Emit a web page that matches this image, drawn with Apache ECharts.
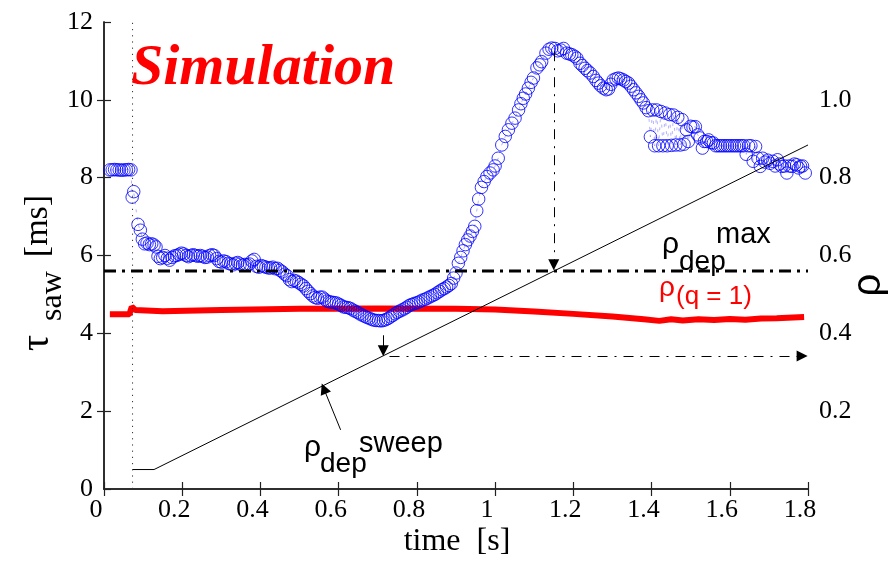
<!DOCTYPE html>
<html><head><meta charset="utf-8">
<script src="https://cdn.jsdelivr.net/npm/echarts@6/dist/echarts.min.js"></script>
<style>html,body{margin:0;padding:0;background:#fff}#c{width:892px;height:561px}</style>
</head><body><div id="c"></div>
<script>
// ---- data (time in s) ----
const xTickValues = [0, 0.2, 0.4, 0.6, 0.8, 1, 1.2, 1.4, 1.6, 1.8];
// sawtooth period tau_saw [ms] vs time
const sawTau = [[0.015,8.2],[0.021,8.2],[0.027,8.21],[0.033,8.2],[0.039,8.2],[0.045,8.19],[0.051,8.2],[0.057,8.2],[0.063,8.21],[0.069,8.2],
[0.072,7.5],[0.076,7.64],
[0.087,6.8],[0.093,6.65],[0.098,6.42],[0.104,6.3],[0.11,6.32],[0.116,6.28],[0.122,6.3],[0.128,6.27],[0.133,6.22],
[0.138,5.98],[0.144,5.92],[0.15,5.95],[0.156,6.0],[0.162,5.93],[0.168,5.88],[0.174,5.95],[0.18,5.99],[0.186,6.0],[0.192,6.03],[0.198,6.06],[0.204,6.04],[0.21,6.0],[0.216,5.97],[0.222,6.0],[0.228,6.02],[0.234,6.0],[0.24,5.98],[0.246,6.0],[0.252,5.98],[0.258,5.95],[0.264,5.96],[0.27,6.0],[0.276,6.02],[0.282,6.0],[0.288,5.92],[0.294,5.85],[0.3,5.83],[0.306,5.86],[0.312,5.84],[0.318,5.8],[0.324,5.78],[0.33,5.76],[0.336,5.8],[0.342,5.82],[0.348,5.78],[0.354,5.75],[0.36,5.77],[0.366,5.76],[0.372,5.78],[0.378,5.86],[0.384,5.9],[0.39,5.72],[0.396,5.7],[0.402,5.74],[0.408,5.72],[0.414,5.7],[0.42,5.68],[0.426,5.68],[0.432,5.7],[0.438,5.66],[0.444,5.67],[0.45,5.62],[0.456,5.58],[0.462,5.52],[0.468,5.48],[0.474,5.38],[0.48,5.33],[0.486,5.36],[0.492,5.34],[0.498,5.3],[0.504,5.26],[0.51,5.22],[0.516,5.15],[0.522,5.08],[0.528,5.02],[0.534,4.96],[0.54,4.92],[0.546,4.9],[0.552,4.93],[0.558,4.93],[0.564,4.88],[0.57,4.83],[0.576,4.81],[0.582,4.8],[0.588,4.79],[0.594,4.78],[0.6,4.75],[0.606,4.72],[0.612,4.68],[0.618,4.67],[0.624,4.66],[0.63,4.64],[0.636,4.6],[0.642,4.57],[0.648,4.54],[0.654,4.5],[0.66,4.47],[0.666,4.44],[0.672,4.41],[0.678,4.39],[0.684,4.36],[0.69,4.34],[0.696,4.33],[0.702,4.33],[0.708,4.32],[0.714,4.33],[0.72,4.35],[0.726,4.38],[0.732,4.42],[0.738,4.46],[0.744,4.5],[0.75,4.54],[0.756,4.57],[0.762,4.6],[0.768,4.63],[0.774,4.67],[0.78,4.71],[0.786,4.74],[0.792,4.76],[0.798,4.78],[0.804,4.8],[0.81,4.83],[0.816,4.86],[0.822,4.88],[0.828,4.91],[0.834,4.94],[0.84,4.97],[0.846,5.0],[0.852,5.04],[0.858,5.08],[0.864,5.12],[0.87,5.15],[0.876,5.19],[0.882,5.23],[0.888,5.28],[0.894,5.42],[0.9,5.55],[0.906,5.8],[0.912,5.95],[0.918,6.12],[0.924,6.28],[0.93,6.4],[0.936,6.5],[0.942,6.62],[0.948,6.75],[0.953,7.15],[0.958,7.45],[0.965,7.75],[0.972,7.9],[0.979,8.03],[0.987,8.12],[0.995,8.2],[1.0,8.3],[1.008,8.5],[1.017,8.84],[1.026,9.06],[1.034,9.23],[1.043,9.4],[1.051,9.53],[1.06,9.74],[1.066,9.9],[1.072,10.04],[1.078,10.15],[1.085,10.3],[1.092,10.45],[1.098,10.56],[1.107,10.82],[1.114,10.9],[1.119,10.98],[1.13,11.2],[1.138,11.3],[1.145,11.33],[1.153,11.32],[1.16,11.26],[1.168,11.28],[1.175,11.32],[1.183,11.2],[1.19,11.18],[1.196,11.16],[1.203,11.12],[1.209,11.07],[1.217,10.94],[1.223,10.88],[1.23,10.81],[1.236,10.75],[1.243,10.69],[1.251,10.6],[1.258,10.5],[1.264,10.43],[1.27,10.36],[1.277,10.3],[1.284,10.26],[1.29,10.28],[1.296,10.4],[1.302,10.51],[1.309,10.54],[1.315,10.56],[1.321,10.54],[1.328,10.51],[1.334,10.47],[1.341,10.43],[1.347,10.35],[1.354,10.26],[1.36,10.18],[1.367,10.09],[1.373,10.0],[1.379,9.92],[1.386,9.8],[1.392,9.72],[1.397,9.05],[1.403,9.74],[1.408,8.82],[1.413,9.74],[1.418,8.82],[1.424,9.7],[1.429,8.82],[1.435,9.66],[1.44,8.82],[1.446,9.62],[1.451,8.83],[1.456,9.61],[1.462,8.84],[1.467,9.55],[1.473,8.84],[1.478,9.49],[1.483,8.86],[1.489,9.23],[1.494,8.93],[1.5,9.32],[1.506,9.3],[1.512,9.31],[1.518,9.1],[1.524,9.02],[1.53,8.76],[1.535,8.93],[1.541,8.93],[1.546,8.97],[1.552,8.9],[1.558,8.89],[1.564,8.82],[1.57,8.82],[1.576,8.82],[1.582,8.82],[1.588,8.82],[1.594,8.82],[1.6,8.82],[1.606,8.82],[1.612,8.82],[1.618,8.82],[1.624,8.82],[1.63,8.82],[1.636,8.82],[1.642,8.6],[1.648,8.82],[1.654,8.82],[1.66,8.42],[1.666,8.8],[1.672,8.5],[1.678,8.29],[1.684,8.5],[1.69,8.4],[1.697,8.45],[1.703,8.37],[1.71,8.42],[1.716,8.3],[1.722,8.46],[1.727,8.35],[1.733,8.29],[1.74,8.3],[1.746,8.12],[1.752,8.3],[1.759,8.29],[1.765,8.35],[1.771,8.33],[1.776,8.25],[1.781,8.29],[1.786,8.3],[1.793,8.12]];
// rho of q=1 surface (right axis)
const rhoQ1Time = [0.015,0.065,0.071,0.08,0.15,0.3,0.5,0.7,0.9,1.0,1.1,1.2,1.3,1.38,1.42,1.45,1.48,1.52,1.56,1.6,1.64,1.68,1.72,1.79];
const rhoQ1 = [0.449,0.449,0.468,0.46,0.457,0.46,0.463,0.464,0.463,0.461,0.456,0.45,0.443,0.436,0.432,0.436,0.433,0.436,0.434,0.437,0.435,0.438,0.439,0.442];
// deposition sweep (right axis)
const sweepTime = [0.073,0.128,1.8];
const sweepRho = [0.05,0.05,0.884];
// annotations
const startTime = 0.073;
const depMaxRho = 0.56;
const peakTime = 1.15, peakTau = 11.25;
const minTime = 0.714, minRho = 0.342, minArrowTop = 0.395;
const sweepLabelArrow = [[0.605,0.152],[0.562,0.258]];
const hArrowEnd = 1.785;

const ser = (t, v) => t.map((x, i) => [x, v[i]]);
const chart = echarts.init(document.getElementById('c'), null, {renderer: 'canvas'});
const axisCol = '#222';
const serif = 'Liberation Serif';
const sans = 'Liberation Sans';
const fmt1 = v => String(+(+v).toFixed(1));
const txt = (x, y, text, size, family, color, extra) => Object.assign({
  type: 'text', x: x, y: y,
  style: {text: text, fontSize: size, fontFamily: family, fill: color,
    textAlign: 'left', textVerticalAlign: 'middle', align: 'left', verticalAlign: 'middle'}
}, extra || {});

const arrowLine = (a, b, type) => ({coords: [a, b], lineStyle: {color: '#000', width: 1, type: type, opacity: 1}});

chart.setOption({
  animation: false,
  backgroundColor: '#fff',
  grid: {left: 104, right: 84, top: 22, bottom: 72, containLabel: false},
  xAxis: [{
    type: 'value', min: 0, max: 1.8, interval: 0.2, position: 'bottom',
    axisLine: {lineStyle: {color: axisCol, width: 1.5}},
    axisTick: {inside: true, length: 7, lineStyle: {color: axisCol, width: 1.2}},
    splitLine: {show: false},
    axisLabel: {fontFamily: serif, fontSize: 26, color: '#000', margin: 8, padding: [0, 16, 0, 0],
      formatter: v => xTickValues.indexOf(+(+v).toFixed(1)) >= 0 ? fmt1(v) : ''}
  }, {
    type: 'value', min: 0, max: 1.8, interval: 0.2, position: 'top',
    axisLine: {lineStyle: {color: axisCol, width: 1.5}},
    axisTick: {inside: true, length: 7, lineStyle: {color: axisCol, width: 1.2}},
    splitLine: {show: false}, axisLabel: {show: false}
  }],
  yAxis: [{
    type: 'value', min: 0, max: 12, interval: 2, position: 'left',
    axisLine: {show: true, lineStyle: {color: axisCol, width: 1.5}},
    axisTick: {show: true, inside: true, length: 7, lineStyle: {color: axisCol, width: 1.2}},
    splitLine: {show: false},
    axisLabel: {fontFamily: serif, fontSize: 26, color: '#000', margin: 11, padding: [0, 0, 5, 0]}
  }, {
    type: 'value', min: 0, max: 1.2, interval: 0.2, position: 'right',
    axisLine: {show: true, lineStyle: {color: axisCol, width: 1.5}},
    axisTick: {show: true, inside: true, length: 7, lineStyle: {color: axisCol, width: 1.2}},
    splitLine: {show: false},
    axisLabel: {fontFamily: serif, fontSize: 26, color: '#000', margin: 11, padding: [0, 0, 3, 0],
      showMinLabel: false, showMaxLabel: false, formatter: v => (+v).toFixed(1)}
  }],
  series: [
    {type: 'line', xAxisIndex: 0, yAxisIndex: 1, data: ser(rhoQ1Time, rhoQ1), symbol: 'none',
      lineStyle: {color: '#ff0000', width: 6}, z: 2},
    {type: 'line', xAxisIndex: 0, yAxisIndex: 0, data: sawTau, symbol: 'none',
      lineStyle: {color: '#0000ff', width: 0.6, type: [3, 5], opacity: 0.5}, z: 3},
    {type: 'scatter', xAxisIndex: 0, yAxisIndex: 0, data: sawTau, symbol: 'circle', symbolSize: 12.5,
      itemStyle: {color: 'rgba(0,0,0,0)', borderColor: '#0000ff', borderWidth: 1}, z: 4},
    {type: 'line', xAxisIndex: 0, yAxisIndex: 1, data: ser(sweepTime, sweepRho), symbol: 'none',
      lineStyle: {color: '#000', width: 1}, z: 5},
    {type: 'line', xAxisIndex: 0, yAxisIndex: 0, data: [[startTime, 0], [startTime, 12]], symbol: 'none',
      lineStyle: {color: '#333', width: 1, type: [1.2, 5]}, z: 5},
    {type: 'line', xAxisIndex: 0, yAxisIndex: 1, data: [[0, depMaxRho], [1.8, depMaxRho]], symbol: 'none',
      lineStyle: {color: '#000', width: 3, type: [12, 6, 3, 6]}, z: 6},
    {type: 'lines', coordinateSystem: 'cartesian2d', xAxisIndex: 0, yAxisIndex: 0,
      symbol: ['none', 'triangle'], symbolSize: 11, z: 7,
      itemStyle: {color: '#000', opacity: 1},
      lineStyle: {color: '#000', opacity: 1},
      data: [
        arrowLine([peakTime, peakTau], [peakTime, depMaxRho * 10 + 0.16], [10, 7, 2, 7]),
        arrowLine([minTime, minArrowTop * 10], [minTime, minRho * 10 + 0.13], 'solid'),
        arrowLine([minTime + 0.016, minRho * 10], [hArrowEnd, minRho * 10], [10, 7, 2, 7]),
        arrowLine([sweepLabelArrow[0][0], sweepLabelArrow[0][1] * 10], [sweepLabelArrow[1][0], sweepLabelArrow[1][1] * 10], 'solid')
      ]}
  ],
  graphic: [
    {type: 'text', x: 131, y: 69, style: {text: 'Simulation', fontSize: 58, fontFamily: serif, fontStyle: 'italic', fontWeight: 'bold', fill: '#ff0000',
      textAlign: 'left', textVerticalAlign: 'middle', align: 'left', verticalAlign: 'middle'}},
    // rho_dep^max
    txt(662, 245, 'ρ', 30, sans, '#000'),
    txt(679, 262, 'dep', 28, sans, '#000'),
    txt(716, 235, 'max', 29, sans, '#000'),
    // rho_(q=1)
    txt(659, 288, 'ρ', 28, sans, '#ff0000'),
    txt(676, 297, '(q = 1)', 26, sans, '#ff0000'),
    // rho_dep^sweep
    txt(304, 448, 'ρ', 30, sans, '#000'),
    txt(320, 464, 'dep', 28, sans, '#000'),
    txt(359, 444, 'sweep', 29, sans, '#000'),
    // axis titles
    {type: 'text', x: 457, y: 542, style: {text: 'time  [s]', fontSize: 32, fontFamily: serif, fill: '#000', textAlign: 'center', textVerticalAlign: 'middle', align: 'center', verticalAlign: 'middle'}},
    {type: 'text', x: 37, y: 343, rotation: Math.PI / 2, style: {text: 'τ', fontSize: 40, fontFamily: serif, fill: '#000', textAlign: 'center', textVerticalAlign: 'middle', align: 'center', verticalAlign: 'middle'}},
    {type: 'text', x: 53, y: 296, rotation: Math.PI / 2, style: {text: 'saw', fontSize: 32, fontFamily: serif, fill: '#000', textAlign: 'center', textVerticalAlign: 'middle', align: 'center', verticalAlign: 'middle'}},
    {type: 'text', x: 38, y: 226, rotation: Math.PI / 2, style: {text: '[ms]', fontSize: 34, fontFamily: serif, fill: '#000', textAlign: 'center', textVerticalAlign: 'middle', align: 'center', verticalAlign: 'middle'}},
    {type: 'text', x: 869, y: 285, rotation: Math.PI / 2, style: {text: 'ρ', fontSize: 40, fontFamily: sans, fill: '#000', textAlign: 'center', textVerticalAlign: 'middle', align: 'center', verticalAlign: 'middle'}}
  ]
});
</script></body></html>
